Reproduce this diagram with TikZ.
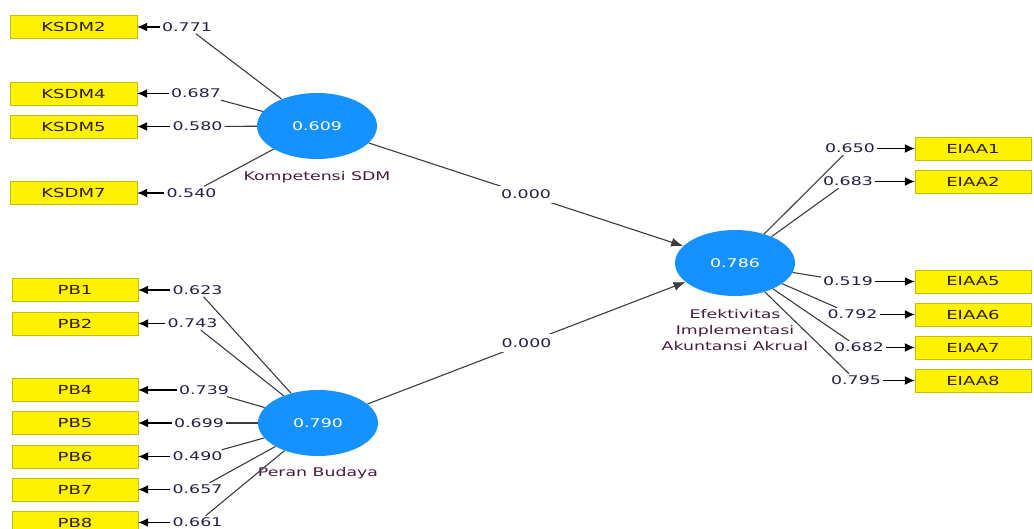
\documentclass[tikz,border=0pt]{standalone}
\usepackage{fontspec}
\setmainfont{DejaVu Sans}[FakeStretch=1.45]
\usetikzlibrary{arrows.meta,shapes.geometric}

\definecolor{boxedge}{RGB}{196,190,0}
\definecolor{boxtext}{RGB}{50,30,0}
\definecolor{lvblue}{RGB}{21,146,255}
\definecolor{numtext}{RGB}{40,30,70}
\definecolor{nametext}{RGB}{70,30,60}
\definecolor{linkgray}{RGB}{60,60,60}

\begin{document}
\begin{tikzpicture}[x=1bp,y=-1bp,
  ind/.style={draw=boxedge, fill=yellow, minimum width=127bp, minimum height=23bp,
    inner sep=0pt, text=boxtext, font=\fontsize{12.5}{14}\selectfont},
  indr/.style={ind, minimum width=116bp},
  lv/.style={ellipse, fill=lvblue, minimum width=120bp, minimum height=66bp,
    inner sep=0pt, text=white, font=\fontsize{12}{13}\selectfont},
  lvname/.style={text=nametext, font=\fontsize{12}{14}\selectfont, align=center, inner sep=1pt},
  num/.style={text=numtext, font=\fontsize{12}{13}\selectfont, inner sep=2pt},
  link/.style={draw=linkgray, line width=1.1bp},
  tip/.style={draw=black, line width=1.1bp, -{Latex[length=10bp,width=9bp]}},
  path/.style={draw=linkgray, line width=1.1bp, -{Latex[length=12bp,width=9bp]}},
]
\useasboundingbox (0,0) rectangle (1034,529);

% latent variables
\node[lv] (ks) at (317,126) {0.609};
\node[lvname] (ksname) at (317,177) {Kompetensi SDM};
\node[lv] (pb) at (318,423) {0.790};
\node[lvname] (pbname) at (318,473) {Peran Budaya};
\node[lv] (ef) at (735,263) {0.786};
\node[lvname, font=\fontsize{12}{16.5}\selectfont] (efname) at (735,330)
  {Efektivitas\\Implementasi\\Akuntansi Akrual};

% indicators of Kompetensi SDM
\node[ind] (k2) at (73.5,27) {KSDM2};
\node[ind] (k4) at (73.5,93.5) {KSDM4};
\node[ind] (k5) at (73.5,126.5) {KSDM5};
\node[ind] (k7) at (73.5,193) {KSDM7};
\node[num] (lk2) at (187,27) {0.771};
\node[num] (lk4) at (196,93.5) {0.687};
\node[num] (lk5) at (197.5,126.5) {0.580};
\node[num] (lk7) at (191.5,193) {0.540};
\foreach \i in {2,4,5,7}{
  \draw[link] (ks) -- (lk\i);
  \draw[tip] (lk\i) -- (k\i);
}

% indicators of Peran Budaya
\node[ind, minimum width=126bp] (b1) at (75,290) {PB1};
\node[ind, minimum width=126bp] (b2) at (75,323.5) {PB2};
\node[ind, minimum width=126bp] (b4) at (75,390) {PB4};
\node[ind, minimum width=126bp] (b5) at (75,423) {PB5};
\node[ind, minimum width=126bp] (b6) at (75,456.5) {PB6};
\node[ind, minimum width=126bp] (b7) at (75,489.5) {PB7};
\node[ind, minimum width=126bp] (b8) at (75,522.5) {PB8};
\node[num] (lb1) at (197.5,290) {0.623};
\node[num] (lb2) at (192.5,323.5) {0.743};
\node[num] (lb4) at (204,390) {0.739};
\node[num] (lb5) at (199,423) {0.699};
\node[num] (lb6) at (197.5,456.5) {0.490};
\node[num] (lb7) at (197.5,489.5) {0.657};
\node[num] (lb8) at (197.5,522.5) {0.661};
\foreach \i in {1,2,4,5,6,7,8}{
  \draw[link] (pb) -- (lb\i);
  \draw[tip] (lb\i) -- (b\i);
}

% indicators of Efektivitas Implementasi Akuntansi Akrual
\node[indr] (e1) at (973,148.5) {EIAA1};
\node[indr] (e2) at (973,181.5) {EIAA2};
\node[indr] (e5) at (973,281.5) {EIAA5};
\node[indr] (e6) at (973,314.5) {EIAA6};
\node[indr] (e7) at (973,347.5) {EIAA7};
\node[indr] (e8) at (973,380.5) {EIAA8};
\node[num] (le1) at (850,148.5) {0.650};
\node[num] (le2) at (848,181.5) {0.683};
\node[num] (le5) at (848,281.5) {0.519};
\node[num] (le6) at (852.5,314.5) {0.792};
\node[num] (le7) at (859,347.5) {0.682};
\node[num] (le8) at (856,380.5) {0.795};
\foreach \i in {1,2,5,6,7,8}{
  \draw[link] (ef) -- (le\i);
  \draw[tip] (le\i) -- (e\i);
}

% structural paths
\draw[path] (ks) -- node[num, fill=white, inner sep=4pt] (pks) {0.000} (ef);
\draw[path] (pb) -- node[num, fill=white, inner sep=4pt] (ppb) {0.000} (ef);
\end{tikzpicture}
\end{document}
